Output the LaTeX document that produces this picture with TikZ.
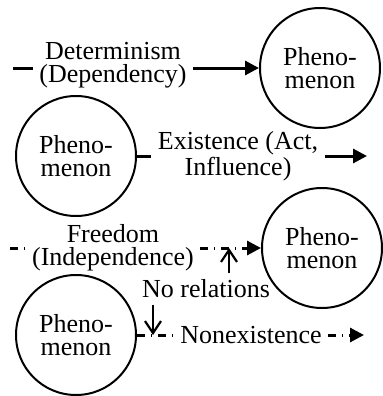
\documentclass[tikz,border=0pt]{standalone}
\usepackage{fontspec}
\setmainfont{Liberation Serif}
\usetikzlibrary{arrows.meta}

\begin{document}
\begin{tikzpicture}[x=0.5pt,y=-0.5pt]
    \tikzstyle{every node}=[font={\fontsize{13}{11.5}\selectfont}, align=center]
    \tikzstyle{phen}=[draw, circle, line width=1pt, minimum size=60pt, inner sep=0pt]
    \tikzstyle{lbl}=[inner sep=3pt]
    \tikzstyle{rel}=[line width=1.5pt]
    \tikzstyle{reldash}=[line width=1.5pt, dash pattern=on 4pt off 3pt on 0.5pt off 3pt]
    \tikzstyle{tip}=[-{Triangle[length=7pt,width=7pt]}]
    \tikzstyle{vtip}=[line width=1.1pt, -{Straight Barb[length=6pt,width=8pt]}]
    \useasboundingbox (0,0) rectangle (382,396);

    \node[phen] (phenA) at (320,68) {Pheno-\\menon};
    \node[phen] (phenB) at (76,156) {Pheno-\\menon};
    \node[phen] (phenC) at (322,248) {Pheno-\\menon};
    \node[phen] (phenD) at (76,335) {Pheno-\\menon};

    \node[lbl] (det) at (113,65) {Determinism\\(Dependency)};
    \coordinate (detin) at (13,68);
    \draw[rel] (detin) -- (detin -| det.west);
    \draw[rel,tip] (det.east |- phenA) -- (phenA);

    \node[lbl] (ex) at (238,156) {Existence (Act,\\Influence)};
    \coordinate (exout) at (367,156);
    \draw[rel] (phenB) -- (ex);
    \draw[rel,tip] (ex) -- (exout);

    \node[lbl] (fr) at (113,248) {Freedom\\(Independence)};
    \coordinate (frin) at (10,248);
    \draw[reldash] (frin) -- (fr);
    \draw[reldash,tip] (fr) -- (phenC);

    \node[lbl] (nonex) at (251,335) {Nonexistence};
    \coordinate (neout) at (364,335);
    \draw[reldash] (phenD) -- (nonex);
    \draw[reldash,tip] (nonex) -- (neout);

    \node[lbl] (norel) at (206,289) {No relations};
    \coordinate (frhit) at (229,248);
    \coordinate (nehit) at (153,335);
    \draw[vtip] (norel.north -| frhit) -- (frhit);
    \draw[vtip] (norel.south -| nehit) -- (nehit);
\end{tikzpicture}
\end{document}
